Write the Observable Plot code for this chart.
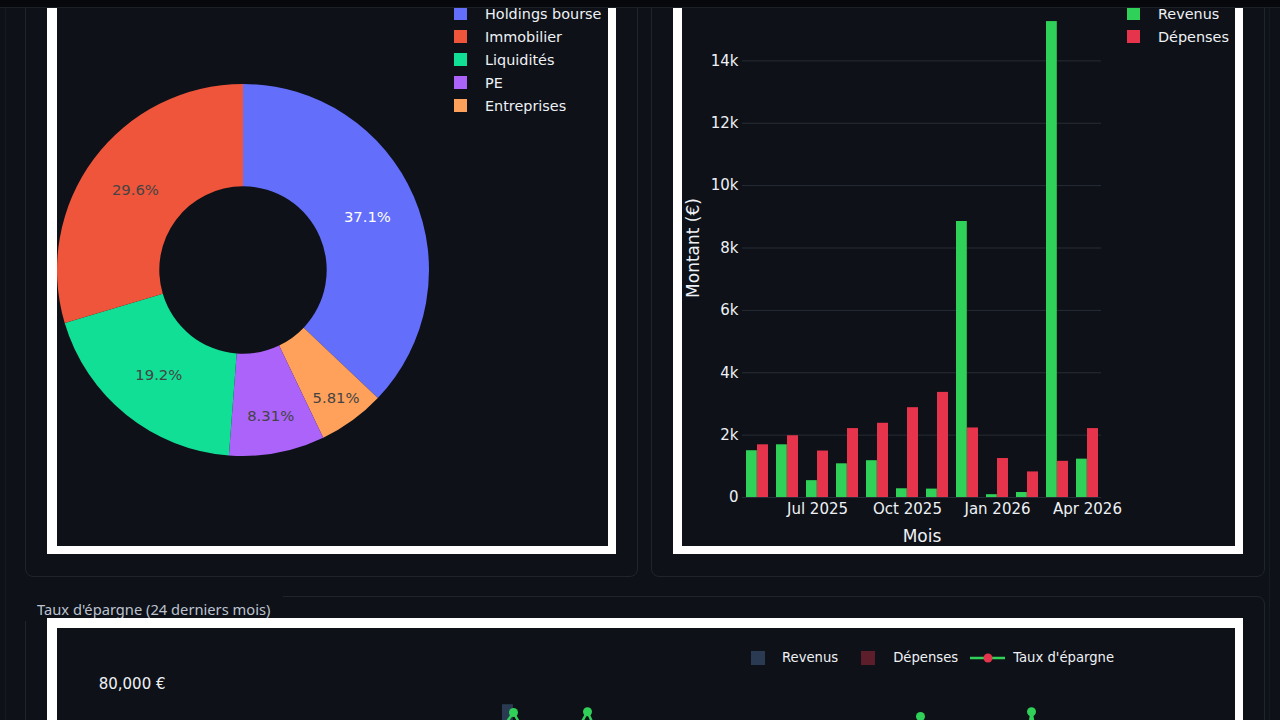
<!DOCTYPE html>
<html><head><meta charset="utf-8">
<script src="https://cdn.jsdelivr.net/npm/d3@7"></script>
<script src="https://cdn.jsdelivr.net/npm/@observablehq/plot@0.6"></script>
<style>
html,body{margin:0;padding:0;background:#0e1117;width:1280px;height:720px;overflow:hidden;font-family:"DejaVu Sans",Verdana,sans-serif;}
.abs{position:absolute;}
.card{position:absolute;border:1px solid #1f242d;border-radius:8px;box-sizing:border-box;}
.frame{position:absolute;background:#ffffff;}
.inner{position:absolute;background:#0e1117;}
.legend{position:absolute;color:#eef1f6;font-size:14.4px;}
.legend .item{display:flex;align-items:center;height:23px;white-space:nowrap;}
.legend .sw{width:13px;height:13px;margin-right:18px;flex:none;}
.blegend{position:absolute;left:751px;top:650px;display:flex;align-items:center;color:#eef1f6;font-size:13.2px;white-space:nowrap;}
.blegend .sw{width:14px;height:14px;flex:none;}
#header{position:absolute;left:0;top:0;width:1280px;height:7px;background:#07080b;border-bottom:1px solid #1c2028;z-index:10;}
#title{position:absolute;left:37px;top:599px;font-family:"Noto Sans",sans-serif;font-size:14.7px;color:#bcc3d0;}
</style></head><body>

<div class="abs" style="left:5px;top:0;width:1265px;height:720px;border-left:1px solid #161a21;border-right:1px solid #161a21;box-sizing:border-box;"></div>
<div class="card" style="left:25px;top:-30px;width:613px;height:607px;"></div>
<div class="card" style="left:651px;top:-30px;width:614px;height:607px;"></div>
<div class="card" style="left:25px;top:596px;width:1240px;height:220px;"></div>
<div class="abs" style="left:12px;top:588px;width:271px;height:33px;background:#0e1117;"></div>
<div id="title">Taux d'épargne (24 derniers mois)</div>

<div class="frame" style="left:47px;top:-20px;width:569px;height:574px;"></div>
<div class="inner" style="left:57px;top:-20px;width:551px;height:566px;"></div>
<div class="frame" style="left:673px;top:-20px;width:570px;height:574px;"></div>
<div class="inner" style="left:682px;top:-20px;width:553px;height:566px;"></div>
<div class="frame" style="left:47px;top:618px;width:1196px;height:200px;"></div>
<div class="inner" style="left:57px;top:628px;width:1178px;height:200px;"></div>

<div id="donut" class="abs" style="left:57px;top:0px;"></div>
<div id="bars" class="abs" style="left:682px;top:-40px;"></div>
<div id="rateBars" class="abs" style="left:57px;top:628px;"></div>
<div id="rateLine" class="abs" style="left:57px;top:628px;"></div>

<div id="legendAlloc" class="legend" style="left:454px;top:2px;"></div>
<div id="legendBars" class="legend" style="left:1127px;top:2px;"></div>
<div id="legendRate" class="blegend"></div>

<div id="header"></div>

<script>
// ---------------- Data ----------------
const allocCategories = ["Holdings bourse", "Immobilier", "Liquidités", "PE", "Entreprises"];
const allocShares = [37.1, 29.6, 19.2, 8.31, 5.81];
const allocColors = ["#636efa", "#ef553b", "#12df96", "#ab63fa", "#ffa15a"];
const allocClockwiseOrder = ["Holdings bourse", "Entreprises", "PE", "Liquidités", "Immobilier"];

const barMonths = ["2025-05","2025-06","2025-07","2025-08","2025-09","2025-10","2025-11","2025-12","2026-01","2026-02","2026-03","2026-04"];
const barRevenus = [1500, 1690, 540, 1080, 1180, 280, 270, 8850, 90, 160, 15260, 1230];
const barDepenses = [1690, 1980, 1490, 2210, 2380, 2880, 3370, 2230, 1250, 820, 1160, 2210];
const barTickMonths = ["2025-07", "2025-10", "2026-01", "2026-04"];
const barTickLabels = ["Jul 2025", "Oct 2025", "Jan 2026", "Apr 2026"];
const barYTicks = [0, 2000, 4000, 6000, 8000, 10000, 12000, 14000];
const barYTickLabels = ["0", "2k", "4k", "6k", "8k", "10k", "12k", "14k"];
const seriesNames = ["Revenus", "Dépenses"];

const rateMonths = ["2024-05","2024-06","2024-07","2024-08","2024-09","2024-10","2024-11","2024-12","2025-01","2025-02","2025-03","2025-04",
                    "2025-05","2025-06","2025-07","2025-08","2025-09","2025-10","2025-11","2025-12","2026-01","2026-02","2026-03","2026-04"];
const rateRevenus = [6200, 5400, 7100, 8300, 5900, 4800, 6600, 9400, 74500, 7200, 21000, 6800,
                     1500, 1690, 540, 1080, 1180, 280, 270, 8850, 90, 160, 15260, 1230];
const rateDepenses = [5900, 6500, 5000, 5800, 5300, 5000, 5000, 5600, 20400, 5000, 5700, 5400,
                      1690, 1980, 1490, 2210, 2380, 2880, 3370, 2230, 1250, 820, 1160, 2210];
const rateTaux = [5, -20, 30, 30, 10, -4, 24, 40, 72.5, 31, 73, 21,
                  -13, -17, -90, -60, -55, -95, -98, 70, -98, -90, 73, -60];
const rateYTicks = [0, 20000, 40000, 60000, 80000];
const rateYTickLabels = ["0 €", "20,000 €", "40,000 €", "60,000 €", "80,000 €"];
const rateSeriesNames = ["Revenus", "Dépenses", "Taux d'épargne"];

// ---------------- Styles ----------------
const ink = "#eef1f6";
const barGreen = "#30d158";
const barRed = "#e5344b";
const rateRevColor = "#2a3a52";
const rateDepColor = "#5b1e2a";
const font = "DejaVu Sans, Verdana, sans-serif";

// ---------------- Donut ----------------
const sliceRows = allocClockwiseOrder.map(c => {
  const i = allocCategories.indexOf(c);
  return {category: c, share: allocShares[i], color: allocColors[i]};
});
const hole = 0.45;
const arcs = d3.pie().sort(null).value(d => d.share)(sliceRows);
const isLight = c => { const {r, g, b} = d3.rgb(c); return (r * 299 + g * 587 + b * 114) / 1000 >= 128; };
// label radius: inscribed-circle rule (text centred where it fits inside the slice)
const labelRows = arcs.map(a => {
  const half = (a.endAngle - a.startAngle) / 2, mid = (a.endAngle + a.startAngle) / 2;
  const rIns = Math.min(1 / (1 + 1 / Math.sin(half)), (1 - hole) / 2);
  const rc = 1 - rIns;
  return {x: rc * Math.sin(mid), y: rc * Math.cos(mid), label: a.data.share + "%",
          ink: isLight(a.data.color) ? "#444444" : "#ffffff"};
});
function donutArcs(index, scales) {
  const cx = scales.x(0), cy = scales.y(0), R = scales.x(1) - cx;
  const arc = d3.arc().innerRadius(R * hole).outerRadius(R);
  const g = d3.create("svg:g").attr("transform", `translate(${cx},${cy})`);
  g.selectAll("path").data(arcs).join("path").attr("d", arc).attr("fill", d => d.data.color);
  return g.node();
}
const donut = Plot.plot({
  width: 551, height: 546,
  marginLeft: 0, marginRight: 179, marginTop: 84, marginBottom: 90,
  style: {background: "transparent", fontFamily: font},
  x: {domain: [-1, 1], axis: null},
  y: {domain: [-1, 1], axis: null},
  marks: [
    donutArcs,
    Plot.text(labelRows, {x: "x", y: "y", text: "label", fill: "ink", fontSize: 14.8})
  ]
});
document.getElementById("donut").appendChild(donut);

// ---------------- Monthly bars ----------------
const barRows = barMonths.map((m, i) => ({month: m, revenus: barRevenus[i], depenses: barDepenses[i]}));
const bars = Plot.plot({
  width: 553, height: 586,
  marginLeft: 60, marginRight: 134, marginTop: 38, marginBottom: 49,
  style: {background: "transparent", color: ink, fontFamily: font, fontSize: "15px"},
  x: {type: "band", domain: barMonths, paddingInner: 0.28, paddingOuter: 0.03,
      ticks: barTickMonths, tickFormat: d => barTickLabels[barTickMonths.indexOf(d)],
      tickSize: 0, tickPadding: 6, label: null},
  y: {domain: [0, 16000], ticks: barYTicks, tickFormat: d => barYTickLabels[barYTicks.indexOf(d)],
      tickSize: 0, tickPadding: 4, label: null},
  marks: [
    Plot.ruleY(barYTicks, {stroke: "#272d37"}),
    Plot.barY(barRows, {x: "month", y: "revenus", fill: barGreen, insetLeft: 0, insetRight: 11.2}),
    Plot.barY(barRows, {x: "month", y: "depenses", fill: barRed, insetLeft: 11, insetRight: 0}),
    Plot.text(["Mois"], {text: d => d, frameAnchor: "bottom", dy: 44, fontSize: 17, fill: ink}),
    Plot.text(["Montant (€)"], {text: d => d, frameAnchor: "left", textAnchor: "middle", rotate: -90, dx: -49, fontSize: 17, fill: ink})
  ]
});
document.getElementById("bars").appendChild(bars);

// ---------------- Savings rate (24 months) ----------------
// Only the top strip of this chart is inside the window; the SVG is cut to that strip.
const rateHeight = 92;
const rateYRange = [360, 40];
const rateYProbe = d3.scaleLinear([0, 84000], rateYRange);
const rateVisibleTicks = rateYTicks.filter(t => rateYProbe(t) < rateHeight - 8);
const rateRows = rateMonths.map((m, i) => ({month: m, revenus: rateRevenus[i], depenses: rateDepenses[i], taux: rateTaux[i]}));
const rateX = {type: "band", domain: rateMonths, range: [141.5, 1029.5], paddingInner: 0.4, paddingOuter: 0.2, axis: null};
const rateBars = Plot.plot({
  width: 1178, height: rateHeight,
  marginLeft: 115, marginRight: 60, marginTop: 40, marginBottom: 0,
  style: {background: "transparent", color: ink, fontFamily: font, fontSize: "15px"},
  x: rateX,
  y: {domain: [0, 84000], range: rateYRange, ticks: rateVisibleTicks, tickFormat: d => rateYTickLabels[rateYTicks.indexOf(d)],
      tickSize: 0, tickPadding: 7, label: null},
  marks: [
    Plot.barY(rateRows, {x: "month", y: "revenus", fill: rateRevColor, insetRight: 11.1}),
    Plot.barY(rateRows, {x: "month", y: "depenses", fill: rateDepColor, insetLeft: 11.1})
  ]
});
document.getElementById("rateBars").appendChild(rateBars);

const rateLine = Plot.plot({
  width: 1178, height: rateHeight,
  marginLeft: 115, marginRight: 60, marginTop: 40, marginBottom: 0,
  style: {background: "transparent", fontFamily: font},
  x: rateX,
  y: {domain: [-100, 100], range: rateYRange, axis: null},
  color: {type: "identity"},
  marks: [
    Plot.line(rateRows, {x: "month", y: "taux", stroke: barGreen, strokeWidth: 2.5}),
    Plot.dot(rateRows, {x: "month", y: "taux", r: 4.5, fill: d => d.taux >= 0 ? barGreen : barRed, stroke: "none"})
  ]
});
document.getElementById("rateLine").appendChild(rateLine);

// ---------------- Legends ----------------
const la = document.getElementById("legendAlloc");
allocCategories.forEach((c, i) => {
  la.insertAdjacentHTML("beforeend", `<div class="item"><span class="sw" style="background:${allocColors[i]}"></span><span>${c}</span></div>`);
});
const lb = document.getElementById("legendBars");
[barGreen, barRed].forEach((col, i) => {
  lb.insertAdjacentHTML("beforeend", `<div class="item"><span class="sw" style="background:${col}"></span><span>${seriesNames[i]}</span></div>`);
});
const lr = document.getElementById("legendRate");
lr.insertAdjacentHTML("beforeend",
  `<span class="sw" style="background:${rateRevColor}"></span><span style="margin-left:17px;margin-right:23px">${rateSeriesNames[0]}</span>` +
  `<span class="sw" style="background:${rateDepColor}"></span><span style="margin-left:18px;margin-right:12px">${rateSeriesNames[1]}</span>` +
  `<svg width="35" height="14" style="flex:none"><line x1="0" x2="35" y1="7" y2="7" stroke="${barGreen}" stroke-width="2.5"/><circle cx="18" cy="7" r="4.5" fill="${barRed}"/></svg>` +
  `<span style="margin-left:8px">${rateSeriesNames[2]}</span>`);
</script>
</body></html>
